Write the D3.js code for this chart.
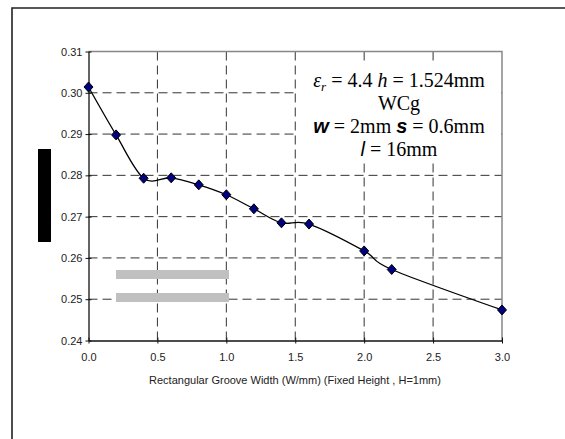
<!DOCTYPE html>
<html>
<head>
<meta charset="utf-8">
<script src="https://cdn.jsdelivr.net/npm/d3@7"></script>
<style>
  body { margin: 0; background: #fff; }
  svg { display: block; }
</style>
</head>
<body>
<div class="chart"></div>
<script>
// groove width (mm) and the value read at each point
const widths = [0, 0.2, 0.4, 0.6, 0.8, 1.0, 1.2, 1.4, 1.6, 2.0, 2.2, 3.0];
const values = [0.3014, 0.2898, 0.2793, 0.2794, 0.2777, 0.2753, 0.2719, 0.2685, 0.2682, 0.2617, 0.2572, 0.2474];
const xTicks = [0, 0.5, 1.0, 1.5, 2.0, 2.5, 3.0];
const yTicks = [0.24, 0.25, 0.26, 0.27, 0.28, 0.29, 0.30, 0.31];
const xTitle = "Rectangular Groove Width (W/mm) (Fixed Height , H=1mm)";

const W = 565, H = 439;
const plotL = 88.5, plotR = 502, plotT = 51.5, plotB = 340.5;

const svg = d3.select(".chart").append("svg").attr("width", W).attr("height", H);

// outer frame (open at bottom / right)
svg.append("path")
    .attr("d", `M12,${H + 2}L12,8L${W + 2},8`)
    .attr("fill", "none").attr("stroke", "#222").attr("stroke-width", 1.6);

const x = d3.scaleLinear().domain([0, 3]).range([plotL, plotR]);
const y = d3.scaleLinear().domain([0.24, 0.31]).range([plotB, plotT]);

// gridlines
const grid = svg.append("g").classed("grid", true);
grid.selectAll(".hgrid")
    .data(yTicks.filter(d => d > 0.245 && d < 0.305))
    .join("line").classed("hgrid", true)
    .attr("x1", plotL).attr("x2", plotR)
    .attr("y1", d => y(d)).attr("y2", d => y(d))
    .attr("stroke", "#333").attr("stroke-dasharray", "9,5");
grid.selectAll(".vgrid")
    .data(xTicks.filter(d => d > 0.1 && d < 2.9))
    .join("line").classed("vgrid", true)
    .attr("x1", d => x(d)).attr("x2", d => x(d))
    .attr("y1", plotT).attr("y2", plotB)
    .attr("stroke", "#333").attr("stroke-dasharray", "9,5");

// plot border top/right (gray)
svg.append("path")
    .attr("d", `M${plotL},${plotT}L${plotR},${plotT}L${plotR},${plotB}`)
    .attr("fill", "none").attr("stroke", "#888").attr("stroke-width", 1.5);

// white box behind annotation
svg.append("rect")
    .attr("x", 297).attr("y", 65).attr("width", plotR - 297 - 1).attr("height", 98)
    .attr("fill", "#fff");

// redacted legend bars
svg.append("rect").attr("x", 116).attr("y", 270).attr("width", 113).attr("height", 9).attr("fill", "#c0c0c0");
svg.append("rect").attr("x", 116).attr("y", 293).attr("width", 113).attr("height", 9).attr("fill", "#c0c0c0");

// redacted y-axis title
svg.append("rect").attr("x", 38).attr("y", 149).attr("width", 13).attr("height", 93).attr("fill", "#000");

// axes
const xAxis = d3.axisBottom(x).tickValues(xTicks).tickFormat(d3.format(".1f"))
    .tickSizeInner(3).tickSizeOuter(0).tickPadding(10);
const yAxis = d3.axisLeft(y).tickValues(yTicks).tickFormat(d3.format(".2f"))
    .tickSizeInner(3).tickSizeOuter(0).tickPadding(4);

const gx = svg.append("g").attr("transform", `translate(0,${plotB})`).call(xAxis);
const gy = svg.append("g").attr("transform", `translate(${plotL},0)`).call(yAxis);
[gx, gy].forEach(g => {
    g.select(".domain").attr("stroke", "#111").attr("stroke-width", 1.3);
    g.selectAll(".tick line").attr("stroke", "#111");
    g.selectAll("text").attr("fill", "#222")
        .style("font-family", "Liberation Sans, Arial, sans-serif").style("font-size", "11px");
});
// ticks cross the axis
gx.selectAll(".tick line").attr("y1", -3).attr("y2", 3);
gy.selectAll(".tick line").attr("x1", 3).attr("x2", -3);
gy.selectAll(".tick text").attr("x", -6);

svg.append("text")
    .attr("x", 295).attr("y", 384)
    .attr("text-anchor", "middle")
    .style("font-family", "Liberation Sans, Arial, sans-serif").style("font-size", "11px")
    .attr("fill", "#222")
    .text(xTitle);

// line (Excel-style smoothing) and diamond markers
const pts = widths.map((w, i) => [w, values[i]]);
const line = d3.line().x(d => x(d[0])).y(d => y(d[1])).curve(d3.curveCatmullRom.alpha(0));
svg.append("path").datum(pts)
    .attr("d", line).attr("fill", "none").attr("stroke", "#000").attr("stroke-width", 1.3);

svg.selectAll(".marker")
    .data(pts)
    .join("path").classed("marker", true)
    .attr("transform", d => `translate(${x(d[0])},${y(d[1])})`)
    .attr("d", "M0,-5L4.5,0L0,5L-4.5,0Z")
    .attr("fill", "#000080").attr("stroke", "#000").attr("stroke-width", 1);

// annotation
const serif = "Liberation Serif, Times New Roman, serif";
const sans = "Liberation Sans, Arial, sans-serif";
const ann = svg.append("g").style("font-family", serif).style("font-size", "20px").attr("fill", "#000");

const l1 = ann.append("text").attr("x", 399).attr("y", 87).attr("text-anchor", "middle");
l1.append("tspan").style("font-style", "italic").text("ε");
l1.append("tspan").style("font-style", "italic").style("font-size", "13px").attr("dy", 4).text("r");
l1.append("tspan").attr("dy", -4).text(" = 4.4 ");
l1.append("tspan").style("font-style", "italic").text("h");
l1.append("tspan").text(" = 1.524mm");

ann.append("text").attr("x", 399).attr("y", 110).attr("text-anchor", "middle").text("WCg");

const l3 = ann.append("text").attr("x", 399).attr("y", 133).attr("text-anchor", "middle");
l3.append("tspan").style("font-family", sans).style("font-style", "italic").style("font-weight", "bold").text("w");
l3.append("tspan").text(" = 2mm ");
l3.append("tspan").style("font-family", sans).style("font-style", "italic").style("font-weight", "bold").text("s");
l3.append("tspan").text(" = 0.6mm");

const l4 = ann.append("text").attr("x", 399).attr("y", 156).attr("text-anchor", "middle");
l4.append("tspan").style("font-family", sans).style("font-style", "italic").text("l");
l4.append("tspan").text(" = 16mm");
</script>
</body>
</html>
